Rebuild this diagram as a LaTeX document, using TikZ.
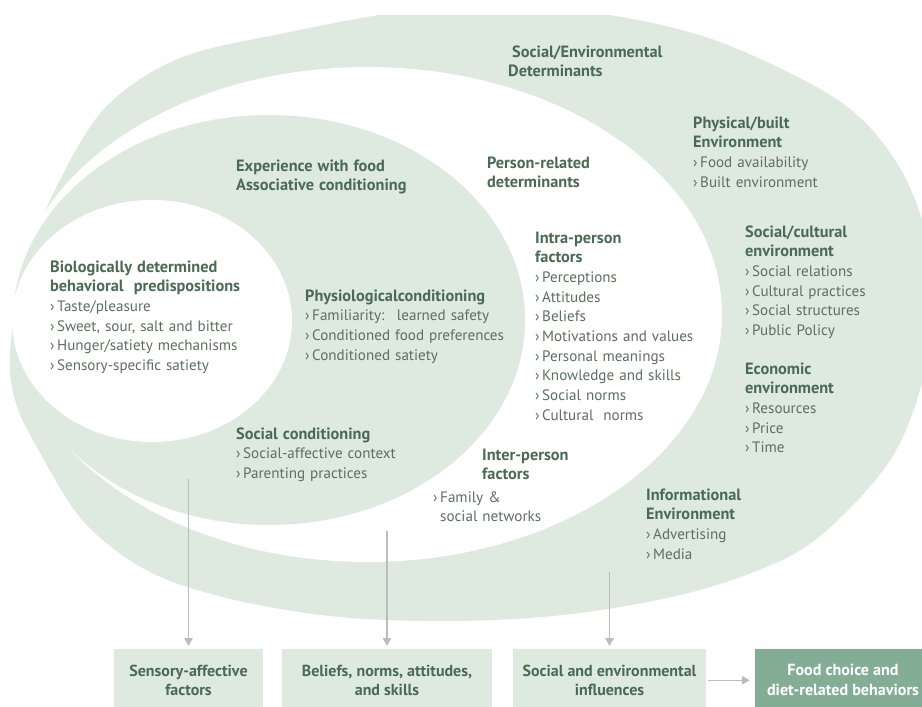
\documentclass[tikz,border=0pt]{standalone}
\usepackage{fontspec}
\setmainfont{PT Sans}
\newfontfamily\headfont{PT Sans}[Scale=1.08]
\usetikzlibrary{arrows.meta}

\definecolor{ringgreen}{HTML}{DEE9DF}
\definecolor{boxdark}{HTML}{83AD94}
\definecolor{headgreen}{HTML}{4B6A55}
\definecolor{bodygray}{HTML}{5E6E62}
\definecolor{arrowgray}{HTML}{BCBCBC}

% heading line and bullet line
\newcommand\hdline[1]{{\headfont\bfseries\color{headgreen}#1}}
\newcommand\itline[1]{{\color{bodygray}›\,#1}}

\begin{document}
\begin{tikzpicture}[x=1pt,y=-1pt,
  label/.style={anchor=base west, inner sep=0pt, align=left, text width=300pt,
                font=\fontsize{15.1}{19.7}\selectfont},
  box/.style={anchor=north, fill=ringgreen, inner sep=0pt, align=center,
              minimum height=62pt, text=headgreen,
              font=\headfont\bfseries\fontsize{14.8}{19.5}\selectfont},
  flow/.style={draw=arrowgray, line width=1.4pt, -{Triangle[length=8pt,width=8.5pt]}}]

\useasboundingbox (0,0) rectangle (922,707);
\clip (0,0) rectangle (922,707);

% nested determinant rings
\begin{scope}
  \clip (0,15) rectangle (922,707);
  \fill[ringgreen] plot[smooth cycle, tension=0.55] coordinates {
    (10,354) (22,275) (55,190) (105,108) (180,58) (290,32) (400,12) (500,6)
    (610,15) (720,42) (838,100) (895,160) (925,230) (935,310) (920,390)
    (894,454) (850,508) (794,554) (700,590) (580,613) (460,621) (340,617)
    (235,600) (150,572) (83,521) (33,440) (15,400)};
\end{scope}
\fill[white] (367.5,314.5) ellipse [x radius=354.5, y radius=247.5];
\fill[ringgreen] (269,320) ellipse [x radius=256, y radius=205];
\fill[white] (152,321) ellipse [x radius=140, y radius=121];

% ring labels
\node[label] (soc) at (512,57) {\hdline{Social/Environmental}\\\hspace*{-4pt}\hdline{Determinants}};
\node[label] (phys) at (693,128) {\hdline{Physical/built}\\\hdline{Environment}\\
  \itline{Food availability}\\\itline{Built environment}};
\node[label] (pers) at (487,168) {\hdline{Person-related}\\\hdline{determinants}};
\node[label] (exper) at (236,171) {\hdline{Experience with food}\\\hdline{Associative conditioning}};
\node[label] (bio) at (50,272) {\hdline{Biologically determined}\\\hdline{behavioral~ predispositions}\\
  \itline{Taste/pleasure}\\\itline{Sweet, sour, salt and bitter}\\
  \itline{Hunger/satiety mechanisms}\\\itline{Sensory-specific satiety}};
\node[label] (physio) at (305,301) {\hdline{Physiologicalconditioning}\\
  \itline{Familiarity:~ learned safety}\\\itline{Conditioned food preferences}\\
  \itline{Conditioned satiety}};
\node[label] (intra) at (535,243) {\hdline{Intra-person}\\\hdline{factors}\\
  \itline{Perceptions}\\\itline{Attitudes}\\\itline{Beliefs}\\
  \itline{Motivations and values}\\\itline{Personal meanings}\\
  \itline{Knowledge and skills}\\\itline{Social norms}\\\itline{Cultural~ norms}};
\node[label] (cult) at (745,237) {\hdline{Social/cultural}\\\hdline{environment}\\
  \itline{Social relations}\\\itline{Cultural practices}\\
  \itline{Social structures}\\\itline{Public Policy}};
\node[label] (econ) at (745,374) {\hdline{Economic}\\\hdline{environment}\\
  \itline{Resources}\\\itline{Price}\\\itline{Time}};
\node[label] (sc) at (236,439) {\hdline{Social conditioning}\\
  \itline{Social-affective context}\\\itline{Parenting practices}};
\node[label] (inter) at (482,460) {\hdline{Inter-person}\\\hdline{factors}};
\node[label] (fam) at (433,502) {\itline{Family \&}\\\hphantom{›\,}{\color{bodygray}social networks}};
\node[label] (info) at (646,500) {\hdline{Informational}\\\hdline{Environment}\\
  \itline{Advertising}\\\itline{Media}};

% outcome boxes
\node[box, minimum width=149pt] (b1) at (188.5,649) {Sensory-affective\\factors};
\node[box, minimum width=210pt] (b2) at (387,649) {Beliefs, norms, attitudes,\\and skills};
\node[box, minimum width=193pt] (b3) at (609.5,649) {Social and environmental\\influences};
\node[box, minimum width=176pt, fill=boxdark, text=white,
      font=\headfont\bfseries\fontsize{14.9}{20}\selectfont] (b4) at (843,649)
      {Food choice and\\diet-related behaviors};

% arrows from the rings to the boxes
\coordinate (s1) at (188.5,479);
\coordinate (s2) at (387,531);
\coordinate (s3) at (609.5,572);
\draw[flow, shorten >=3pt] (s1) -- (b1.north);
\draw[flow, shorten >=3pt] (s2) -- (b2.north);
\draw[flow, shorten >=3pt] (s3) -- (b3.north);
\draw[flow, shorten <=2pt, shorten >=5pt] (b3.east) -- (b4.west);
\end{tikzpicture}
\end{document}
